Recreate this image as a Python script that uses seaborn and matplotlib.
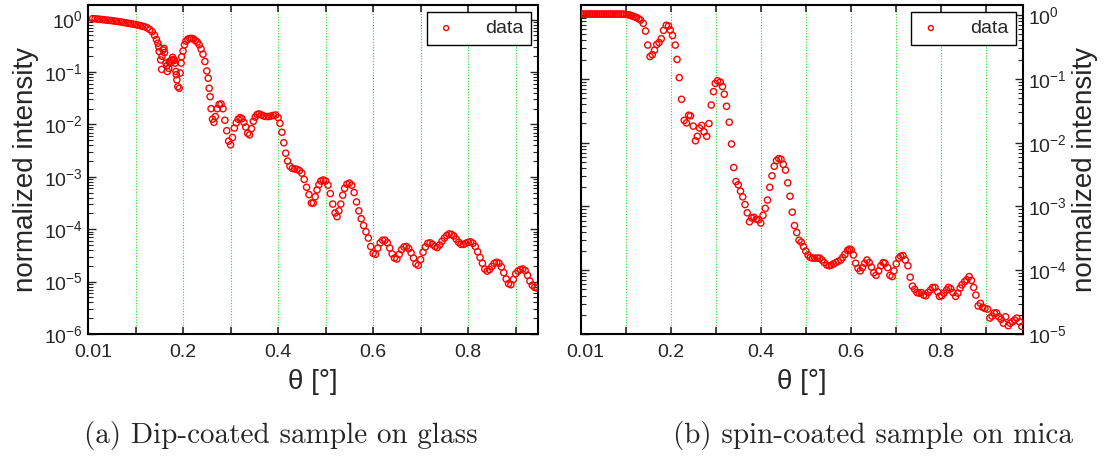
import numpy as np
import pandas as pd
import matplotlib
matplotlib.use("Agg")
import matplotlib.pyplot as plt
import seaborn as sns

# ---------------- data ----------------
theta_a = [0.010, 0.015, 0.020, 0.025, 0.030, 0.035, 0.040, 0.045, 0.050, 0.055,
           0.060, 0.065, 0.070, 0.075, 0.080, 0.085, 0.090, 0.095, 0.100, 0.105,
           0.110, 0.115, 0.120, 0.125, 0.130, 0.135, 0.140, 0.144, 0.147, 0.149,
           0.150, 0.153, 0.155, 0.156, 0.158, 0.160, 0.161, 0.164, 0.166, 0.167,
           0.170, 0.171, 0.173, 0.176, 0.178, 0.180, 0.182, 0.183, 0.185, 0.186,
           0.187, 0.189, 0.192, 0.194, 0.196, 0.197, 0.200, 0.203, 0.206, 0.210,
           0.214, 0.218, 0.222, 0.226, 0.230, 0.234, 0.238, 0.242, 0.246, 0.250,
           0.253, 0.255, 0.257, 0.259, 0.262, 0.265, 0.268, 0.272, 0.276, 0.280,
           0.284, 0.288, 0.292, 0.296, 0.300, 0.304, 0.308, 0.312, 0.316, 0.320,
           0.324, 0.328, 0.332, 0.336, 0.340, 0.344, 0.348, 0.352, 0.356, 0.360,
           0.365, 0.370, 0.375, 0.380, 0.385, 0.390, 0.395, 0.400, 0.404, 0.408,
           0.412, 0.416, 0.420, 0.425, 0.430, 0.435, 0.440, 0.445, 0.450, 0.455,
           0.460, 0.465, 0.470, 0.474, 0.478, 0.482, 0.486, 0.490, 0.495, 0.500,
           0.505, 0.510, 0.515, 0.520, 0.524, 0.528, 0.532, 0.536, 0.540, 0.545,
           0.550, 0.555, 0.560, 0.565, 0.570, 0.575, 0.580, 0.585, 0.590, 0.595,
           0.600, 0.605, 0.610, 0.615, 0.620, 0.625, 0.630, 0.635, 0.640, 0.645,
           0.650, 0.655, 0.660, 0.665, 0.670, 0.675, 0.680, 0.685, 0.690, 0.695,
           0.700, 0.705, 0.710, 0.715, 0.720, 0.725, 0.730, 0.735, 0.740, 0.745,
           0.750, 0.755, 0.760, 0.765, 0.770, 0.775, 0.780, 0.785, 0.790, 0.795,
           0.800, 0.805, 0.810, 0.815, 0.820, 0.825, 0.830, 0.835, 0.840, 0.845,
           0.850, 0.855, 0.860, 0.865, 0.870, 0.875, 0.880, 0.885, 0.890, 0.895,
           0.900, 0.905, 0.910, 0.915, 0.920, 0.925, 0.930, 0.935, 0.940, 0.945]
log_int_a = [0.020, 0.015, 0.010, 0.005, 0.000, -0.005, -0.010, -0.015, -0.020, -0.027,
             -0.033, -0.040, -0.047, -0.055, -0.062, -0.070, -0.078, -0.086, -0.095, -0.105,
             -0.115, -0.127, -0.140, -0.160, -0.190, -0.230, -0.300, -0.380, -0.450, -0.520,
             -0.610, -0.770, -0.950, -0.700, -0.580, -0.550, -0.630, -0.830, -0.880, -0.990,
             -0.930, -0.800, -0.830, -0.770, -0.720, -0.760, -0.780, -0.830, -0.990, -1.050,
             -1.150, -1.280, -1.310, -1.020, -0.830, -0.710, -0.600, -0.480, -0.410, -0.375,
             -0.360, -0.360, -0.370, -0.400, -0.430, -0.480, -0.560, -0.660, -0.800, -0.980,
             -1.120, -1.310, -1.470, -1.700, -1.900, -1.960, -1.850, -1.700, -1.620, -1.610,
             -1.700, -1.920, -2.120, -2.320, -2.390, -2.250, -2.070, -1.970, -1.900, -1.870,
             -1.890, -1.960, -2.050, -2.170, -2.200, -2.080, -1.940, -1.860, -1.810, -1.800,
             -1.820, -1.840, -1.850, -1.850, -1.840, -1.830, -1.820, -1.870, -1.980, -2.150,
             -2.350, -2.550, -2.700, -2.800, -2.840, -2.850, -2.860, -2.880, -2.930, -3.050,
             -3.200, -3.340, -3.500, -3.500, -3.380, -3.250, -3.150, -3.080, -3.060, -3.080,
             -3.160, -3.320, -3.520, -3.690, -3.760, -3.650, -3.520, -3.350, -3.220, -3.140,
             -3.120, -3.160, -3.300, -3.480, -3.650, -3.800, -3.930, -4.050, -4.170, -4.330,
             -4.460, -4.480, -4.360, -4.260, -4.210, -4.210, -4.260, -4.360, -4.470, -4.550,
             -4.570, -4.480, -4.390, -4.340, -4.330, -4.370, -4.450, -4.550, -4.660, -4.690,
             -4.580, -4.440, -4.340, -4.270, -4.260, -4.290, -4.330, -4.350, -4.300, -4.230,
             -4.170, -4.120, -4.090, -4.100, -4.130, -4.190, -4.250, -4.290, -4.290, -4.270,
             -4.250, -4.240, -4.270, -4.330, -4.430, -4.540, -4.650, -4.760, -4.800, -4.770,
             -4.710, -4.650, -4.630, -4.650, -4.720, -4.830, -4.950, -5.040, -5.060, -4.960,
             -4.850, -4.800, -4.770, -4.760, -4.790, -4.880, -4.990, -5.070, -5.110, -5.120]

theta_b = [0.000, 0.004, 0.008, 0.012, 0.016, 0.020, 0.024, 0.028, 0.032, 0.036,
           0.040, 0.044, 0.048, 0.052, 0.056, 0.060, 0.064, 0.068, 0.072, 0.076,
           0.080, 0.084, 0.088, 0.092, 0.096, 0.102, 0.106, 0.110, 0.113, 0.117,
           0.121, 0.124, 0.129, 0.133, 0.139, 0.144, 0.149, 0.154, 0.159, 0.164,
           0.169, 0.174, 0.179, 0.184, 0.190, 0.195, 0.199, 0.204, 0.210, 0.214,
           0.219, 0.224, 0.230, 0.235, 0.240, 0.244, 0.250, 0.255, 0.259, 0.264,
           0.269, 0.274, 0.280, 0.285, 0.290, 0.295, 0.299, 0.304, 0.310, 0.315,
           0.319, 0.324, 0.330, 0.335, 0.340, 0.345, 0.350, 0.355, 0.360, 0.365,
           0.370, 0.375, 0.380, 0.385, 0.390, 0.395, 0.400, 0.405, 0.410, 0.415,
           0.420, 0.425, 0.430, 0.435, 0.440, 0.445, 0.450, 0.455, 0.460, 0.465,
           0.470, 0.475, 0.480, 0.485, 0.490, 0.495, 0.500, 0.505, 0.510, 0.515,
           0.520, 0.526, 0.531, 0.536, 0.541, 0.547, 0.552, 0.557, 0.562, 0.567,
           0.572, 0.578, 0.582, 0.587, 0.593, 0.597, 0.601, 0.606, 0.611, 0.616,
           0.621, 0.626, 0.631, 0.636, 0.641, 0.646, 0.651, 0.656, 0.662, 0.667,
           0.672, 0.676, 0.682, 0.687, 0.692, 0.696, 0.701, 0.707, 0.711, 0.716,
           0.721, 0.727, 0.732, 0.737, 0.742, 0.747, 0.752, 0.757, 0.762, 0.767,
           0.772, 0.777, 0.782, 0.787, 0.793, 0.797, 0.802, 0.807, 0.813, 0.817,
           0.822, 0.827, 0.833, 0.838, 0.843, 0.847, 0.853, 0.858, 0.863, 0.868,
           0.873, 0.878, 0.883, 0.888, 0.893, 0.898, 0.904, 0.909, 0.914, 0.919,
           0.924, 0.929, 0.934, 0.939, 0.944, 0.950, 0.954, 0.959, 0.964, 0.969,
           0.975, 0.980]
log_int_b = [0.016, 0.016, 0.016, 0.016, 0.016, 0.016, 0.016, 0.016, 0.016, 0.016,
             0.016, 0.016, 0.016, 0.016, 0.016, 0.016, 0.016, 0.016, 0.016, 0.016,
             0.016, 0.016, 0.016, 0.015, 0.013, 0.010, 0.005, 0.000, -0.010, -0.020,
             -0.030, -0.040, -0.057, -0.078, -0.130, -0.250, -0.470, -0.650, -0.620, -0.550,
             -0.460, -0.430, -0.370, -0.240, -0.160, -0.170, -0.235, -0.320, -0.470, -0.695,
             -0.980, -1.320, -1.650, -1.690, -1.570, -1.580, -1.740, -1.970, -1.900, -1.770,
             -1.730, -1.830, -1.900, -1.700, -1.410, -1.200, -1.070, -1.030, -1.050, -1.120,
             -1.240, -1.430, -1.680, -2.020, -2.390, -2.610, -2.660, -2.760, -2.850, -2.970,
             -3.100, -3.240, -3.180, -3.170, -3.200, -3.210, -3.260, -3.140, -3.030, -2.900,
             -2.700, -2.520, -2.370, -2.280, -2.250, -2.260, -2.340, -2.430, -2.630, -2.840,
             -3.090, -3.300, -3.410, -3.530, -3.560, -3.630, -3.700, -3.760, -3.800, -3.810,
             -3.810, -3.810, -3.810, -3.840, -3.880, -3.920, -3.930, -3.920, -3.900, -3.880,
             -3.860, -3.840, -3.800, -3.750, -3.690, -3.670, -3.680, -3.760, -3.890, -3.970,
             -4.010, -3.960, -3.890, -3.840, -3.880, -3.950, -4.040, -4.080, -4.010, -3.930,
             -3.880, -3.890, -3.960, -4.080, -4.100, -4.010, -3.900, -3.810, -3.780, -3.770,
             -3.840, -3.930, -4.110, -4.250, -4.300, -4.350, -4.360, -4.350, -4.390, -4.400,
             -4.350, -4.310, -4.270, -4.270, -4.340, -4.410, -4.400, -4.360, -4.310, -4.270,
             -4.290, -4.350, -4.410, -4.360, -4.280, -4.230, -4.180, -4.150, -4.100, -4.160,
             -4.270, -4.390, -4.560, -4.520, -4.580, -4.600, -4.610, -4.750, -4.720, -4.670,
             -4.670, -4.730, -4.770, -4.830, -4.730, -4.870, -4.830, -4.810, -4.780, -4.750,
             -4.810, -4.880]

xtick_pos = [0.01, 0.2, 0.4, 0.6, 0.8]
xtick_labels = ["0.01", "0.2", "0.4", "0.6", "0.8"]
grid_pos = [0.1, 0.2, 0.3, 0.4, 0.5, 0.6, 0.7, 0.8, 0.9]
captions = ["(a) Dip-coated sample on glass", "(b) spin-coated sample on mica"]

df_a = pd.DataFrame({"theta": theta_a, "intensity": np.power(10.0, log_int_a)})
df_b = pd.DataFrame({"theta": theta_b, "intensity": np.power(10.0, log_int_b)})

# ---------------- style ----------------
sns.set_style("ticks")
plt.rcParams["font.family"] = ["Liberation Sans", "DejaVu Sans"]
plt.rcParams["mathtext.fontset"] = "custom"
plt.rcParams["mathtext.rm"] = "Liberation Sans"
plt.rcParams["mathtext.it"] = "Liberation Sans:italic"
plt.rcParams["mathtext.bf"] = "Liberation Sans:bold"

W, H = 1107, 457
fig = plt.figure(figsize=(W / 100, H / 100), dpi=100)
ax1 = fig.add_axes([88 / W, (H - 334) / H, 450 / W, 329 / H])
ax2 = fig.add_axes([580.7 / W, (H - 334) / H, 442 / W, 329 / H])


def style_axes(ax, df, xmax, ylim, right_labels):
    sns.scatterplot(data=df, x="theta", y="intensity", ax=ax, marker="o", s=20,
                    color="red", facecolor="none", edgecolor="red",
                    linewidth=1.0, label="data", zorder=3)
    ax.set_yscale("log")
    ax.set_xlim(0, xmax)
    ax.set_ylim(*ylim)
    ax.set_xticks(xtick_pos)
    ax.set_xticklabels(xtick_labels)
    ax.set_xticks(grid_pos, minor=True)
    ax.xaxis.remove_overlapping_locs = False
    ax.grid(False)
    ax.xaxis.grid(True, which="minor", color="#22dd22", linestyle=(0, (1, 1.5)),
                  linewidth=0.8)
    ax.tick_params(axis="x", which="major", length=0, labelsize=14, pad=7)
    ax.tick_params(axis="x", which="minor", direction="in", length=5, width=1.2,
                   top=True, bottom=True)
    ax.tick_params(axis="y", which="major", direction="in", length=6, width=1,
                   left=True, right=True, labelsize=14,
                   labelleft=not right_labels, labelright=right_labels)
    ax.tick_params(axis="y", which="minor", direction="in", length=3.5, width=0.8,
                   left=True, right=True)
    for sp in ax.spines.values():
        sp.set_linewidth(1.5)
        sp.set_color("black")
    ax.set_xlabel("θ [°]", fontsize=20, labelpad=6)
    ax.set_ylabel("normalized intensity", fontsize=20, labelpad=4)
    if right_labels:
        ax.yaxis.set_label_position("right")
    leg = ax.legend(loc="upper right", bbox_to_anchor=(1.0, 1.0),
                    borderaxespad=0.35, fontsize=14, frameon=True, fancybox=False,
                    framealpha=1, edgecolor="black", handlelength=1.2,
                    handletextpad=1.4, borderpad=0.4, markerscale=0.8)
    leg.get_frame().set_linewidth(1.0)


style_axes(ax1, df_a, 0.947, (1e-6, 1.9), False)
style_axes(ax2, df_b, 0.982, (1e-5, 1.44), True)

fig.text(281 / W, 1 - 435 / H, captions[0], ha="center", va="center",
         family="cmr10", fontsize=21)
fig.text(873 / W, 1 - 435 / H, captions[1], ha="center", va="center",
         family="cmr10", fontsize=21)

fig.savefig("out.png", dpi=100)
